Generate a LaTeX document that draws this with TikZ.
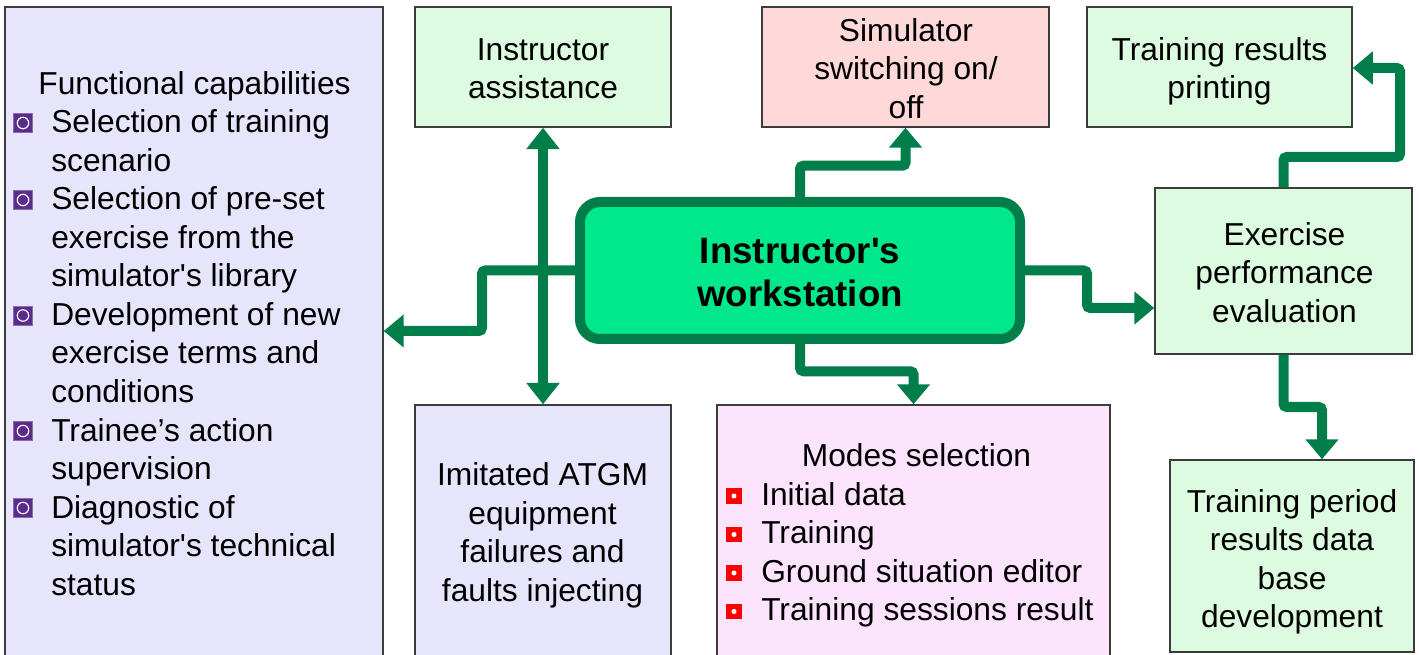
\documentclass[tikz,border=0pt]{standalone}
\usepackage{fontspec}
\setmainfont{Liberation Sans}
\usetikzlibrary{arrows.meta,fit,calc}
\definecolor{lav}{RGB}{230,229,251}
\definecolor{lgreen}{RGB}{221,251,224}
\definecolor{lpink}{RGB}{255,217,217}
\definecolor{mpink}{RGB}{252,228,252}
\definecolor{wsfill}{RGB}{0,232,138}
\definecolor{agreen}{RGB}{0,126,74}
\definecolor{bgray}{RGB}{60,60,60}
\definecolor{bpurple}{RGB}{92,44,140}
\tikzset{
  box/.style={draw=bgray, line width=1.1pt, inner sep=0pt},
  wsbox/.style={draw=agreen, fill=wsfill, line width=7.5pt, rounded corners=15pt, inner sep=0pt},
  txt/.style={font=\fontsize{23.8}{28}\selectfont, inner sep=0pt, text=black},
  btxt/.style={font=\fontsize{27.5}{33}\selectfont\bfseries, inner sep=0pt, text=black},
  arr/.style={draw=agreen, line width=7.5pt, rounded corners=2.5pt, -{Triangle[length=15pt,width=24pt]}},
  darr/.style={draw=agreen, line width=7.5pt, {Triangle[length=16pt,width=24pt]}-{Triangle[length=16pt,width=24pt]}},
  pbul/.style={fill=bpurple, draw=bpurple!70, line width=0.4pt, minimum size=14pt, inner sep=0pt,
    path picture={\draw[white, line width=0.9pt] (path picture bounding box.center) circle (4.3pt);}},
  rbul/.style={fill=red, minimum size=11.5pt, inner sep=0pt,
    path picture={\fill[white] (path picture bounding box.center) circle (1.9pt);}},
}
\begin{document}
\begin{tikzpicture}[x=0.75pt, y=-0.75pt]
\useasboundingbox (0,0) rectangle (1419,655);
\clip (0,0) rectangle (1419,655);
% boxes
\node[box, fill=lav, fit={(5,7) (383,720)}] (func) {};
\node[box, fill=lgreen, fit={(415,7) (671,127)}] (assist) {};
\node[box, fill=lpink, fit={(762,7) (1049,127)}] (sim) {};
\node[box, fill=lgreen, fit={(1087,7) (1352,127)}] (print) {};
\node[box, fill=lgreen, fit={(1155,188) (1412,354)}] (eval) {};
\node[box, fill=lav, fit={(415,405) (671,720)}] (atgm) {};
\node[box, fill=mpink, fit={(717,405) (1110,720)}] (modes) {};
\node[box, fill=lgreen, fit={(1170,460) (1414,652)}] (db) {};
\node[wsbox, fit={(580,202) (1020,339)}] (ws) {};
% arrows
\draw[arr] (ws.west) -- (482,270.5) -- (482,331) -- (func.east |- 482,331);
\draw[darr] (assist.south) -- (atgm.north);
\draw[arr] (ws.north) |- ($(sim.south)+(0,38)$) -- (sim.south);
\draw[arr] (ws.south) |- ($(modes.north)+(0,-33)$) -- (modes.north);
\draw[arr] (ws.east) -- (1087,270.5) -- (1087,308) -- (eval.west |- 1087,308);
\draw[arr] (eval.north) -- (1283.5,157) -- (1400,157) -- (1400,68) -- (print.east |- 1400,68);
\draw[arr] (eval.south) -- (1283.5,407) -- (1322,407) -- (db.north -| 1322,407);
% central text
\node[btxt, anchor=base] (ws1) at (800,264) {Instructor\textquotesingle s};
\node[btxt, anchor=base] (ws2) at (800,307) {workstation};
% left box
\node[txt, anchor=base] (fc) at (194.5,94.5) {Functional capabilities};
\foreach \y/\t [count=\i] in {133/{Selection of training}, 171.5/{scenario}, 210/{Selection of pre-set},
  248.5/{exercise from the}, 287/{simulator\textquotesingle s library}, 325.5/{Development of new},
  364/{exercise terms and}, 402.5/{conditions}, 441/{Trainee’s action}, 479.5/{supervision},
  518/{Diagnostic of}, 556.5/{simulator\textquotesingle s technical}, 595/{status}}
  \node[txt, anchor=base west] (fl\i) at (51,\y) {\t};
\foreach \y [count=\i] in {133,210,325.5,441,518}
  \node[pbul] (pb\i) at (23,\y-10) {};
% instructor assistance
\node[txt, anchor=base] (as1) at (543,60.5) {Instructor};
\node[txt, anchor=base] (as2) at (543,99) {assistance};
% simulator
\node[txt, anchor=base] (sm1) at (906,41.5) {Simulator};
\node[txt, anchor=base] (sm2) at (906,80) {switching on/};
\node[txt, anchor=base] (sm3) at (906,118.5) {off};
% printing
\node[txt, anchor=base] (pr1) at (1219.5,60.5) {Training results};
\node[txt, anchor=base] (pr2) at (1219.5,99) {printing};
% evaluation
\node[txt, anchor=base] (ev1) at (1284.5,245.5) {Exercise};
\node[txt, anchor=base] (ev2) at (1284.5,284) {performance};
\node[txt, anchor=base] (ev3) at (1284.5,322.5) {evaluation};
% ATGM
\node[txt, anchor=base] (at1) at (542.5,485.5) {Imitated ATGM};
\node[txt, anchor=base] (at2) at (542.5,524) {equipment};
\node[txt, anchor=base] (at3) at (542.5,562.5) {failures and};
\node[txt, anchor=base] (at4) at (542.5,601) {faults injecting};
% modes
\node[txt, anchor=base] (md0) at (916.5,466.5) {Modes selection};
\foreach \y/\t [count=\i] in {505/{Initial data}, 543.5/{Training}, 582/{Ground situation editor}, 620.5/{Training sessions result}}
{
  \node[txt, anchor=base west] (md\i) at (761,\y) {\t};
  \node[rbul] (rb\i) at (734,\y-9) {};
}
% database
\node[txt, anchor=base] (db1) at (1292,512) {Training period};
\node[txt, anchor=base] (db2) at (1292,550.5) {results data};
\node[txt, anchor=base] (db3) at (1292,589) {base};
\node[txt, anchor=base] (db4) at (1292,627.5) {development};
\end{tikzpicture}
\end{document}
